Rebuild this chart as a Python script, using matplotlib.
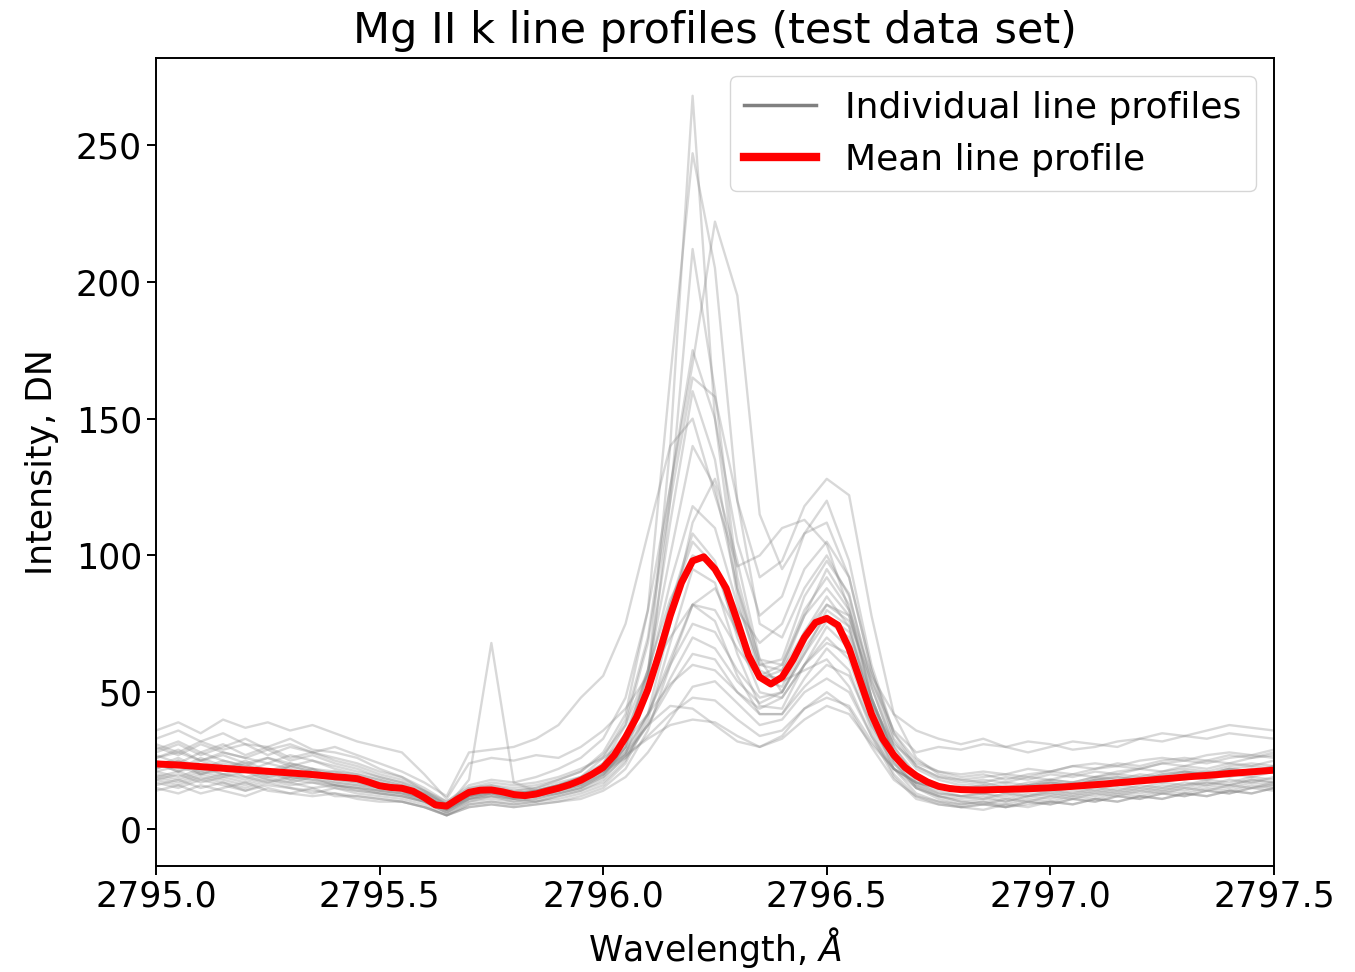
import matplotlib.pyplot as plt
from matplotlib.lines import Line2D
import numpy as np

# wavelength grid of the individual spectra (0.05 A steps)
wave = np.round(np.arange(2795.0, 2797.5001, 0.05), 3)

# individual Mg II k profiles, DN
profiles = [
    [22, 25, 20, 23, 19, 21, 18, 20, 17, 16, 14, 13, 11, 7, 12, 13, 11, 12, 14, 16,
     21, 30, 55, 140, 268, 150, 88, 58, 54, 58, 62, 52, 34, 22, 17, 14, 12, 13, 11, 13,
     12, 14, 13, 15, 14, 16, 15, 17, 16, 18, 17],
    [30, 27, 31, 28, 26, 29, 25, 27, 24, 22, 19, 17, 13, 9, 15, 16, 14, 15, 18, 21,
     28, 42, 80, 165, 247, 205, 120, 75, 70, 88, 100, 85, 55, 32, 22, 18, 16, 17, 15, 17,
     18, 17, 19, 18, 20, 19, 21, 20, 22, 21, 23],
    [33, 36, 32, 35, 31, 30, 33, 29, 28, 26, 22, 19, 14, 10, 16, 18, 17, 19, 22, 26,
     33, 48, 80, 125, 170, 222, 195, 115, 95, 108, 112, 92, 58, 35, 25, 21, 19, 20, 18, 20,
     21, 23, 22, 24, 23, 25, 26, 25, 27, 26, 28],
    [18, 20, 17, 19, 21, 18, 17, 19, 16, 15, 13, 12, 10, 6, 10, 12, 11, 10, 12, 14,
     18, 27, 52, 120, 212, 160, 92, 60, 58, 78, 95, 82, 48, 26, 16, 12, 10, 11, 10, 12,
     11, 13, 12, 14, 13, 15, 14, 16, 15, 17, 16],
    [26, 28, 25, 27, 24, 26, 23, 25, 22, 20, 18, 16, 13, 8, 13, 15, 13, 14, 16, 19,
     26, 40, 70, 125, 175, 150, 105, 78, 85, 108, 120, 98, 60, 35, 23, 19, 17, 18, 17, 19,
     18, 20, 19, 21, 22, 21, 23, 22, 24, 23, 25],
    [24, 21, 25, 22, 24, 20, 23, 21, 20, 18, 16, 15, 12, 8, 12, 14, 12, 13, 15, 18,
     24, 38, 68, 120, 165, 158, 120, 92, 98, 118, 128, 122, 78, 42, 26, 20, 18, 17, 19, 18,
     20, 19, 21, 20, 22, 24, 23, 25, 24, 26, 27],
    [19, 17, 20, 18, 16, 19, 17, 15, 16, 14, 13, 12, 10, 6, 11, 12, 10, 11, 13, 15,
     19, 30, 58, 112, 160, 135, 85, 56, 55, 72, 85, 74, 44, 24, 15, 12, 10, 9, 11, 10,
     12, 11, 13, 12, 14, 13, 15, 14, 16, 15, 17],
    [28, 31, 27, 30, 33, 29, 31, 28, 30, 27, 24, 21, 17, 12, 28, 29, 30, 33, 38, 48,
     56, 75, 108, 140, 150, 122, 96, 100, 110, 113, 104, 80, 56, 42, 36, 33, 31, 33, 30, 32,
     31, 29, 30, 32, 33, 35, 34, 36, 38, 37, 36],
    [21, 23, 20, 22, 25, 21, 19, 22, 18, 17, 15, 14, 11, 7, 12, 14, 12, 13, 15, 17,
     22, 33, 58, 100, 140, 125, 88, 62, 60, 80, 92, 80, 48, 28, 19, 15, 14, 15, 13, 15,
     14, 16, 17, 16, 18, 17, 19, 18, 20, 19, 21],
    [16, 18, 15, 17, 14, 16, 15, 13, 15, 13, 12, 11, 9, 5, 9, 10, 9, 10, 12, 14,
     17, 25, 42, 75, 112, 128, 98, 62, 50, 64, 80, 74, 46, 25, 15, 11, 9, 10, 8, 10,
     9, 11, 10, 12, 11, 13, 12, 14, 13, 15, 14],
    [25, 22, 26, 23, 21, 24, 22, 20, 21, 19, 17, 15, 12, 8, 13, 14, 13, 14, 16, 19,
     24, 35, 56, 90, 118, 110, 82, 60, 62, 85, 98, 86, 52, 30, 20, 16, 15, 16, 14, 16,
     17, 16, 18, 19, 18, 20, 21, 20, 22, 21, 23],
    [20, 18, 21, 19, 17, 20, 18, 17, 16, 15, 14, 13, 10, 7, 11, 13, 11, 12, 14, 16,
     20, 30, 50, 82, 108, 98, 70, 50, 48, 60, 70, 62, 38, 22, 15, 12, 11, 12, 10, 12,
     13, 12, 14, 13, 15, 14, 16, 17, 16, 18, 17],
    [29, 32, 28, 31, 27, 30, 26, 28, 25, 23, 20, 18, 14, 9, 14, 16, 15, 16, 18, 21,
     27, 38, 58, 84, 100, 96, 80, 68, 75, 95, 105, 92, 58, 33, 23, 19, 18, 19, 20, 19,
     21, 20, 22, 23, 22, 24, 25, 24, 26, 27, 26],
    [17, 15, 18, 16, 14, 17, 15, 14, 13, 12, 11, 10, 8, 5, 9, 10, 9, 10, 11, 13,
     16, 24, 40, 68, 95, 90, 64, 45, 44, 60, 74, 66, 40, 22, 13, 10, 8, 9, 8, 10,
     9, 11, 10, 12, 11, 13, 12, 14, 13, 15, 16],
    [23, 26, 22, 25, 23, 21, 24, 22, 20, 19, 17, 15, 12, 8, 12, 13, 12, 13, 15, 17,
     21, 28, 42, 62, 82, 88, 72, 55, 52, 68, 82, 78, 52, 30, 19, 15, 14, 13, 15, 14,
     16, 15, 17, 16, 18, 19, 18, 20, 19, 21, 22],
    [14, 16, 13, 15, 17, 14, 13, 15, 12, 12, 11, 10, 8, 5, 8, 9, 8, 9, 10, 12,
     15, 22, 36, 60, 82, 76, 56, 42, 42, 55, 66, 58, 36, 20, 12, 9, 8, 9, 8, 9,
     10, 9, 11, 10, 12, 11, 13, 12, 14, 13, 15],
    [27, 24, 28, 25, 23, 26, 24, 22, 21, 20, 18, 16, 13, 9, 13, 14, 13, 14, 16, 18,
     22, 29, 42, 60, 75, 72, 58, 48, 50, 64, 76, 70, 46, 28, 19, 16, 15, 16, 17, 16,
     18, 17, 19, 20, 19, 21, 22, 21, 23, 24, 23],
    [19, 21, 18, 20, 19, 17, 19, 18, 16, 15, 14, 13, 11, 7, 11, 12, 11, 12, 13, 15,
     19, 26, 38, 55, 70, 66, 54, 46, 50, 66, 78, 72, 48, 28, 17, 13, 12, 13, 12, 14,
     13, 15, 14, 16, 15, 17, 16, 18, 17, 19, 18],
    [24, 21, 23, 20, 22, 19, 21, 20, 18, 17, 15, 14, 11, 7, 11, 13, 12, 12, 14, 16,
     20, 27, 38, 52, 64, 62, 50, 42, 42, 52, 60, 56, 38, 24, 16, 13, 12, 11, 13, 12,
     14, 13, 15, 14, 16, 15, 17, 16, 18, 17, 19],
    [31, 28, 32, 29, 31, 27, 30, 28, 26, 24, 21, 19, 15, 10, 15, 17, 16, 17, 19, 22,
     26, 32, 42, 53, 60, 58, 50, 44, 48, 60, 68, 64, 46, 31, 24, 21, 20, 21, 20, 22,
     21, 23, 24, 23, 25, 26, 25, 27, 28, 27, 29],
    [15, 13, 16, 14, 12, 15, 13, 12, 13, 11, 10, 10, 8, 5, 8, 9, 8, 9, 10, 11,
     14, 19, 28, 40, 52, 54, 46, 38, 40, 50, 55, 50, 34, 19, 11, 9, 8, 7, 9, 8,
     10, 9, 11, 10, 12, 11, 13, 12, 14, 13, 15],
    [22, 25, 21, 24, 22, 20, 23, 21, 19, 18, 16, 15, 12, 8, 12, 14, 13, 14, 16, 18,
     21, 26, 34, 42, 48, 47, 40, 34, 36, 44, 48, 45, 32, 22, 17, 15, 14, 15, 16, 15,
     17, 16, 18, 17, 19, 18, 20, 21, 20, 22, 21],
    [18, 16, 19, 17, 15, 18, 16, 17, 15, 14, 13, 12, 10, 6, 10, 11, 10, 11, 13, 15,
     20, 28, 38, 45, 44, 38, 32, 30, 34, 44, 50, 44, 30, 18, 12, 10, 9, 10, 9, 11,
     10, 12, 11, 13, 12, 14, 13, 15, 14, 16, 15],
    [26, 29, 25, 28, 26, 24, 27, 25, 23, 21, 19, 17, 14, 9, 13, 15, 14, 15, 17, 19,
     22, 27, 33, 38, 40, 39, 34, 30, 33, 40, 45, 42, 31, 22, 17, 15, 14, 15, 14, 16,
     17, 16, 18, 19, 18, 20, 21, 20, 22, 23, 22],
    [21, 19, 22, 20, 18, 21, 19, 18, 17, 16, 15, 14, 11, 8, 18, 68, 17, 14, 16, 18,
     22, 32, 52, 82, 105, 96, 72, 56, 60, 78, 88, 78, 48, 28, 18, 15, 14, 15, 14, 16,
     15, 17, 16, 18, 17, 19, 20, 19, 21, 20, 22],
    [36, 39, 35, 40, 37, 39, 36, 38, 35, 32, 30, 28, 20, 11, 24, 26, 25, 27, 26, 30,
     36, 44, 56, 70, 82, 80, 66, 55, 58, 72, 82, 76, 54, 36, 28, 30, 29, 31, 30, 28,
     30, 32, 31, 30, 33, 32, 34, 33, 35, 34, 33],
]

# mean profile on the finer 0.025 A grid
wave_mean = np.round(np.arange(2795.0, 2797.5001, 0.025), 3)
mean_profile = [
    23.8, 23.6, 23.4, 23.1, 22.8, 22.5, 22.2, 21.9, 21.6, 21.4,
    21.1, 20.8, 20.5, 20.2, 19.9, 19.5, 19.1, 18.8, 18.4, 17.2,
    15.8, 15.2, 14.9, 13.8, 11.5, 8.8, 8.4, 11.0, 13.4, 14.2,
    14.3, 13.6, 12.6, 12.2, 12.8, 13.9, 14.9, 16.2, 17.8, 20.0,
    22.5, 27.0, 33.5, 41.0, 51.0, 64.0, 78.0, 90.0, 98.0, 99.5,
    95.0, 88.0, 76.0, 63.5, 55.5, 53.0, 55.5, 62.0, 70.0, 75.5,
    77.0, 74.5, 66.0, 54.0, 42.0, 33.0, 27.0, 22.5, 19.5, 17.2,
    15.6, 14.8, 14.4, 14.3, 14.3, 14.4, 14.5, 14.6, 14.7, 14.9,
    15.1, 15.3, 15.6, 15.9, 16.2, 16.5, 16.9, 17.2, 17.6, 17.9,
    18.3, 18.6, 19.0, 19.3, 19.6, 19.9, 20.3, 20.6, 20.9, 21.2,
    21.5,
]

fs = 25
fig, ax = plt.subplots(figsize=(13.55, 9.72), dpi=100)
fig.subplots_adjust(left=0.1151, right=0.9402, top=0.9403, bottom=0.1091)

for p in profiles:
    ax.plot(wave, p, color='grey', alpha=0.3, lw=1.7)
ax.plot(wave_mean, mean_profile, color='red', lw=5)

ax.set_xlim(2795.0, 2797.5)
ax.set_ylim(-13.5, 281.8)
ax.set_xticks([2795.0, 2795.5, 2796.0, 2796.5, 2797.0, 2797.5])
ax.set_yticks([0, 50, 100, 150, 200, 250])
ax.tick_params(labelsize=fs, length=6.5, width=1.4)
for s in ax.spines.values():
    s.set_linewidth(1.4)

ax.set_title('Mg II k line profiles (test data set)', fontsize=31, pad=11)
ax.set_xlabel(r'Wavelength, $\AA$', fontsize=fs, labelpad=8)
ax.set_ylabel('Intensity, DN', fontsize=fs, labelpad=12)

handles = [Line2D([], [], color='grey', lw=2.5),
           Line2D([], [], color='red', lw=6)]
ax.legend(handles, ['Individual line profiles', 'Mean line profile'],
          loc='upper right', fontsize=26, borderaxespad=0.5)

fig.savefig('out.png', dpi=100)
